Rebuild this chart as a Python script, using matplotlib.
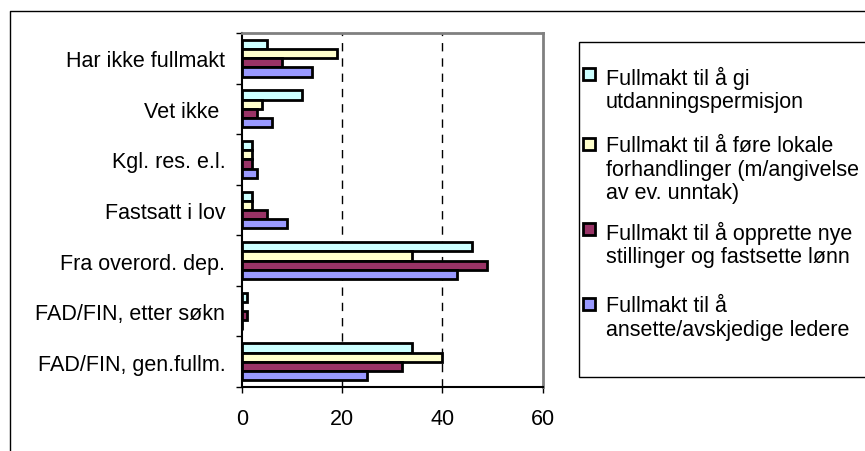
import numpy as np
import matplotlib
matplotlib.use("Agg")
import matplotlib.pyplot as plt
from matplotlib.patches import Rectangle
from matplotlib.lines import Line2D

plt.rcParams['font.family'] = ['Liberation Sans', 'DejaVu Sans']

# Kategorier, ovenfra og ned
kategorier = ["Har ikke fullmakt", "Vet ikke ", "Kgl. res. e.l.", "Fastsatt i lov",
              "Fra overord. dep.", "FAD/FIN, etter søkn", "FAD/FIN, gen.fullm."]

# Serier (antall virksomheter)
utdanning = [5, 12, 2, 2, 46, 1, 34]
lokale = [19, 4, 2, 2, 34, 0, 40]
stillinger = [8, 3, 2, 5, 49, 1, 32]
ledere = [14, 6, 3, 9, 43, 0, 25]

serienavn = ["Fullmakt til å gi\nutdanningspermisjon",
             "Fullmakt til å føre lokale\nforhandlinger (m/angivelse\nav ev. unntak)",
             "Fullmakt til å opprette nye\nstillinger og fastsette lønn",
             "Fullmakt til å\nansette/avskjedige ledere"]
farger = ["#CCFFFF", "#FFFFCC", "#993366", "#9999FF"]

W, H = 865, 452
fs = 15.5
fig = plt.figure(figsize=(W / 100, H / 100), dpi=100)

def fx(px):
    return px / W

def fy(py):
    return 1 - py / H

ax = fig.add_axes([fx(242), fy(388), fx(542.5) - fx(242), fy(34) - fy(388)])

y = np.arange(len(kategorier))
h = 1 / 5.5
for i, (verdier, farge) in enumerate(zip([utdanning, lokale, stillinger, ledere], farger)):
    ax.barh(y + (i - 1.5) * h, verdier, height=h, color=farge,
            edgecolor='black', linewidth=2, zorder=3)

ax.set_xlim(0, 60)
ax.set_ylim(len(kategorier) - 0.5, -0.5)
ax.set_xticks([0, 20, 40, 60])
ax.tick_params(axis='x', direction='out', length=4, width=1, pad=11, labelsize=fs)

# kategorigrenser som hovedmerker, etiketter på mellommerker
ax.set_yticks(np.arange(-0.5, len(kategorier), 1.0))
ax.set_yticklabels([])
ax.set_yticks(y, minor=True)
ax.set_yticklabels(kategorier, minor=True)
ax.tick_params(axis='y', which='major', direction='out', length=4, width=1)
ax.tick_params(axis='y', which='minor', length=0, pad=12, labelsize=fs)

for xv in [20, 40]:
    ax.axvline(xv, color='black', linewidth=1, linestyle=(0, (6, 5)), zorder=1)

ax.spines['left'].set_linewidth(1.5)
ax.spines['bottom'].set_linewidth(1.5)
ax.spines['top'].set_color('#808080')
ax.spines['right'].set_color('#808080')
ax.spines['top'].set_linewidth(2)
ax.spines['right'].set_linewidth(2)

# ytre ramme rundt diagramområdet
fig.add_artist(Line2D([fx(10), fx(10), fx(870)], [fy(460), fy(12), fy(12)],
                      color='black', linewidth=1))

# forklaring
fig.add_artist(Rectangle((fx(579), fy(378)), fx(900) - fx(579), fy(43) - fy(378),
                         facecolor='white', edgecolor='black', linewidth=1))
linje1 = [75, 145, 230, 305]
for navn, farge, yc in zip(serienavn, farger, linje1):
    fig.add_artist(Rectangle((fx(582.5), fy(yc + 6)), fx(12), fy(0) - fy(12),
                             facecolor=farge, edgecolor='black', linewidth=2))
    fig.text(fx(606), fy(yc - 8.5), navn, fontsize=fs, va='top', ha='left',
             linespacing=1.15)

fig.savefig("out.png", dpi=100)
